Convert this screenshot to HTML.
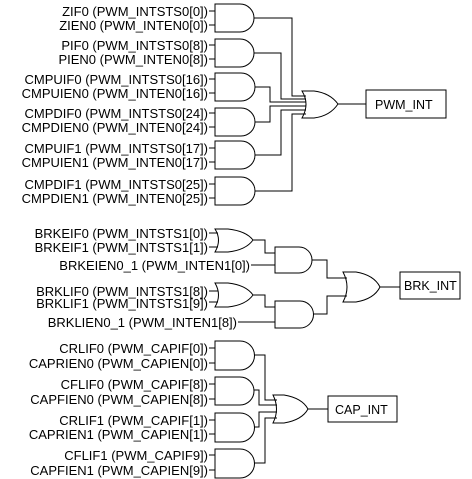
<!DOCTYPE html>
<html><head><meta charset="utf-8"><style>
html,body{margin:0;padding:0;background:#fff;}
svg{display:block;}
text{font-family:"Liberation Sans",Arial,sans-serif;font-size:13px;fill:#000;}
.b{font-size:12.5px;}
</style></head><body>
<svg width="472" height="479" viewBox="0 0 472 479" xmlns="http://www.w3.org/2000/svg">
<g fill="none" stroke="#000" stroke-width="1">
<path d="M215,4 H240 A14,14 0 0 1 240,32 H215 Z"/>
<path d="M215,39 H240 A14,14 0 0 1 240,67 H215 Z"/>
<path d="M215,73 H241 A14,14 0 0 1 241,101 H215 Z"/>
<path d="M215,108 H241 A14,14 0 0 1 241,136 H215 Z"/>
<path d="M215,141 H241 A14,14 0 0 1 241,169 H215 Z"/>
<path d="M215,177 H241 A14,14 0 0 1 241,205 H215 Z"/>
<path d="M209,11H215M209,25H215M209,45H215M209,59H215M209,79H215M209,93H215M209,113H215M209,127H215M209,148H215M209,162H215M209,184H215M209,198H215"/>
<path d="M254,18H292V96H306"/>
<path d="M254,53H281V99H306"/>
<path d="M255,87H270V102H306"/>
<path d="M255,122H270V106H306"/>
<path d="M255,155H281V110H306"/>
<path d="M255,191H292V114H306"/>
<path d="M302,91 H314 Q330,93 338,104 Q330,116 314,118 H302 Q310,104 302,91 Z"/>
<path d="M338,104H366"/>
<rect x="366" y="90" width="80" height="28"/>

<path d="M215,229 H228 Q246,231 253,240 Q246,250 228,252 H215 Q222,240 215,229 Z"/>
<path d="M215,283 H228 Q246,285 253,295 Q246,305 228,307 H215 Q222,295 215,283 Z"/>
<path d="M209,233H218M209,247H218M209,291H218M209,302H218"/>
<path d="M253,240H265V253H275"/>
<path d="M253,295H265V307H275"/>
<path d="M251,265H275M238,322H275"/>
<path d="M275,247 H299 A13,13 0 0 1 299,273 H275 Z"/>
<path d="M275,301 H300 A13.5,13.5 0 0 1 300,328 H275 Z"/>
<path d="M312,260H327V278H347"/>
<path d="M313,314H327V296H347"/>
<path d="M343,272 H356 Q374,275 380,287 Q374,299 356,302 H343 Q351,287 343,272 Z"/>
<path d="M380,287H400"/>
<rect x="400" y="272" width="60" height="27"/>

<path d="M215,341 H240 A14.5,14.5 0 0 1 240,370 H215 Z"/>
<path d="M215,377 H240 A14,14 0 0 1 240,405 H215 Z"/>
<path d="M215,413 H240 A14.5,14.5 0 0 1 240,442 H215 Z"/>
<path d="M215,449 H240 A14.5,14.5 0 0 1 240,478 H215 Z"/>
<path d="M209,348H215M209,363H215M209,384H215M209,399H215M209,420H215M209,434H215M209,455H215M209,470H215"/>
<path d="M254,355H265V400H277"/>
<path d="M254,390H259V405H277"/>
<path d="M254,427H259V412H277"/>
<path d="M254,463H265V418H277"/>
<path d="M273,395 H284 Q302,398 308,409 Q302,420 284,423 H273 Q280,409 273,395 Z"/>
<path d="M308,409H328"/>
<rect x="328" y="396" width="69" height="26"/>
</g>
<g text-anchor="end">
<text x="208" y="16">ZIF0 (PWM_INTSTS0[0])</text>
<text x="208" y="30">ZIEN0 (PWM_INTEN0[0])</text>
<text x="208" y="50">PIF0 (PWM_INTSTS0[8])</text>
<text x="208" y="64">PIEN0 (PWM_INTEN0[8])</text>
<text x="208" y="84">CMPUIF0 (PWM_INTSTS0[16])</text>
<text x="208" y="98">CMPUIEN0 (PWM_INTEN0[16])</text>
<text x="208" y="118">CMPDIF0 (PWM_INTSTS0[24])</text>
<text x="208" y="132">CMPDIEN0 (PWM_INTEN0[24])</text>
<text x="208" y="153">CMPUIF1 (PWM_INTSTS0[17])</text>
<text x="208" y="167">CMPUIEN1 (PWM_INTEN0[17])</text>
<text x="208" y="189">CMPDIF1 (PWM_INTSTS0[25])</text>
<text x="208" y="203">CMPDIEN1 (PWM_INTEN0[25])</text>
<text x="208" y="238">BRKEIF0 (PWM_INTSTS1[0])</text>
<text x="208" y="252">BRKEIF1 (PWM_INTSTS1[1])</text>
<text x="250" y="270">BRKEIEN0_1 (PWM_INTEN1[0])</text>
<text x="208" y="296">BRKLIF0 (PWM_INTSTS1[8])</text>
<text x="208" y="308">BRKLIF1 (PWM_INTSTS1[9])</text>
<text x="237" y="327">BRKLIEN0_1 (PWM_INTEN1[8])</text>
<text x="208" y="353">CRLIF0 (PWM_CAPIF[0])</text>
<text x="208" y="368">CAPRIEN0 (PWM_CAPIEN[0])</text>
<text x="208" y="389">CFLIF0 (PWM_CAPIF[8])</text>
<text x="208" y="404">CAPFIEN0 (PWM_CAPIEN[8])</text>
<text x="208" y="425">CRLIF1 (PWM_CAPIF[1])</text>
<text x="208" y="439">CAPRIEN1 (PWM_CAPIEN[1])</text>
<text x="208" y="460">CFLIF1 (PWM_CAPIF9])</text>
<text x="208" y="475">CAPFIEN1 (PWM_CAPIEN[9])</text>
</g>
<text class="b" x="375" y="109">PWM_INT</text>
<text class="b" x="404" y="290">BRK_INT</text>
<text class="b" x="335" y="414">CAP_INT</text>
</svg>
</body></html>
